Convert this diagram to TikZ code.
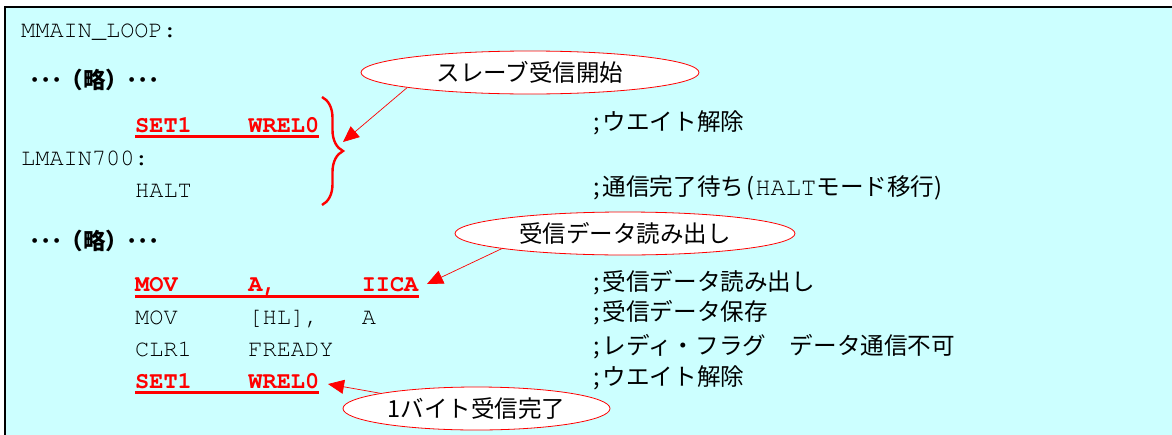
\documentclass[tikz,border=0pt]{standalone}
\usepackage{fontspec}
\setmonofont{TeX Gyre Cursor}
\newfontfamily\jp{Noto Sans CJK JP}
\usetikzlibrary{shapes.geometric,arrows.meta,decorations.pathreplacing}
\definecolor{codebg}{HTML}{CCFFFF}
\newcommand\mycode{\ttfamily\fontsize{23.6}{28}\selectfont}
\newcommand\myjp{\jp\fontsize{23.6}{28}\selectfont}
\tikzset{
  code/.style={anchor=base west, inner sep=0pt, font=\mycode, text=black},
  redcode/.style={anchor=base west, inner sep=0pt, font=\mycode\bfseries, text=red},
  omit/.style={anchor=base west, inner sep=0pt, font=\jp\bfseries\fontsize{22.5}{26}\selectfont},
  cmt/.style={anchor=base west, inner sep=0pt, font=\myjp},
  uline/.style={red, line width=3pt},
  bubble/.style={ellipse, draw=red, line width=0.8pt, fill=white, inner sep=0pt, minimum height=43pt, font=\jp\fontsize{23.5}{28}\selectfont},
  callout/.style={red, line width=0.7pt, -{Triangle[length=16pt,width=14pt]}},
}
\begin{document}
\begin{tikzpicture}[x=1pt,y=-1pt]
\useasboundingbox (0,0) rectangle (1172,434);
\clip (0,0) rectangle (1172,434);
\fill[white] (0,0) rectangle (1172,434);
\draw[line width=2pt, fill=codebg] (5,7) rectangle (1190,450);

% code lines
\node[code] (l1) at (21,37) {MMAIN\_LOOP:};
\node[omit] (o1) at (29,88) {･･･\kern-2pt（略）\kern-2pt･･･};
\node[redcode] (r1) at (135,132) {SET1~~~~WREL0};
\node[code] (l2) at (21,165) {LMAIN700:};
\node[code] (l3) at (135,197) {HALT};
\node[omit] (o2) at (29,249) {･･･\kern-2pt（略）\kern-2pt･･･};
\node[redcode] (r2) at (135,291.5) {MOV~~~~~A,~~~~~~IICA};
\node[code] (l4) at (135,324) {MOV~~~~~[HL],~~~A};
\node[code] (l5) at (135,356.5) {CLR1~~~~FREADY};
\node[redcode] (r3) at (135,388) {SET1~~~~WREL0};

\draw[uline] ([yshift=-4.5pt]r1.base west) -- ([yshift=-4.5pt]r1.base east);
\draw[uline] ([yshift=-5pt]r2.base west) -- ([yshift=-5pt]r2.base east);
\draw[uline] ([yshift=-4.5pt]r3.base west) -- ([yshift=-4.5pt]r3.base east);

% comments
\node[cmt] (c1) at (593,130.5) {;\kern3pt ウエイト解除};
\node[cmt] (c2) at (593,195.5) {;\kern3pt 通信完了待ち\kern2pt(\kern1pt{\ttfamily\fontsize{25.5}{28}\selectfont HALT}モード移行)};
\node[cmt] (c3) at (593,290.5) {;\kern3pt 受信データ読み出し};
\node[cmt] (c4) at (593,320.5) {;\kern3pt 受信データ保存};
\node[cmt] (c5) at (593,354.5) {;\kern3pt レディ・フラグ　データ通信不可};
\node[cmt] (c6) at (593,385.5) {;\kern3pt ウエイト解除};

% brace
\coordinate (bt) at (322,97);
\coordinate (bb) at (322,205);
\draw[red, line width=2.4pt, decorate, decoration={brace, amplitude=21pt}] (bt) -- (bb);

% callouts
\node[bubble, minimum width=338pt] (e1) at (530,72.5) {スレーブ受信開始};
\coordinate (t1) at (343,142);
\draw[callout] (e1.187.4) -- (t1);

\node[bubble, minimum width=340pt] (e2) at (625,233.5) {受信データ読み出し};
\coordinate (t2) at (427,284);
\draw[callout] (e2.187.1) -- (t2);

\node[bubble, minimum width=267pt] (e3) at (476.5,408.5) {1バイト受信完了};
\coordinate (t3) at (328,384);
\draw[callout] (e3.171.9) -- (t3);
\end{tikzpicture}
\end{document}
